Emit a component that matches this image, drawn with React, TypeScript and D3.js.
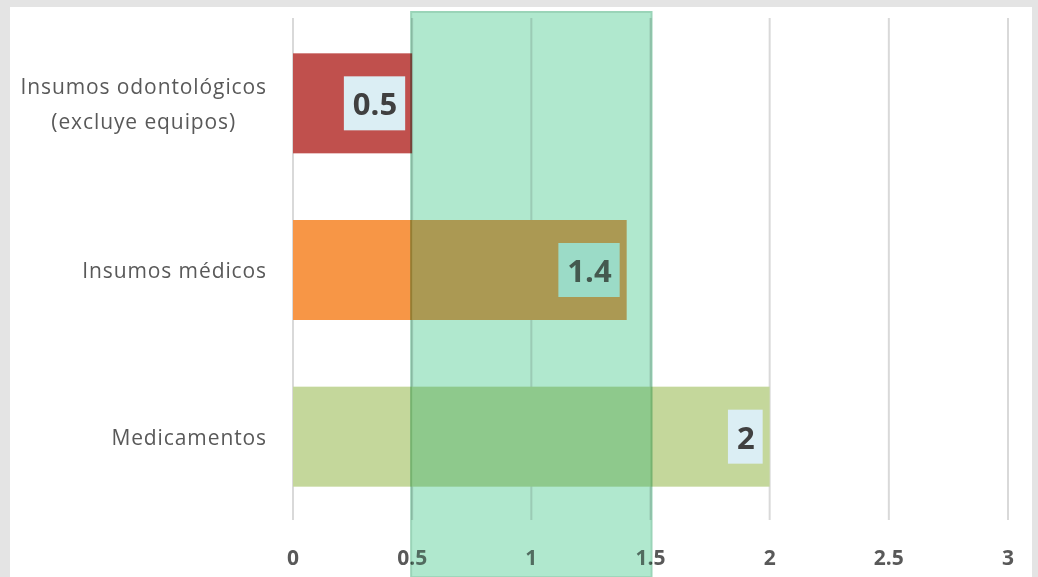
import React, { useEffect, useRef } from 'react';
import * as d3 from 'd3';

// values
const categories = ['Insumos odontológicos\n(excluye equipos)', 'Insumos médicos', 'Medicamentos'];
const values = [0.5, 1.4, 2];
const barColors = ['#c0504d', '#f79646', '#c4d79b'];
const tickValues = [0, 0.5, 1, 1.5, 2, 2.5, 3];
const bandRange = [0.5, 1.5];

const W = 1038;
const H = 577;

function App() {
  const svgRef = useRef<SVGSVGElement>(null);

  useEffect(() => {
    const svg = d3.select(svgRef.current);
    svg.selectAll('*').remove();

    const x = d3.scaleLinear().domain([0, 3]).range([293, 1008]);
    const y = d3.scaleBand().domain(categories).range([20, 520]).paddingInner(0.4).paddingOuter(0.2);

    // frame
    svg.append('rect').attr('width', W).attr('height', H).attr('fill', '#e4e4e4');
    svg.append('rect').attr('x', 10).attr('y', 7).attr('width', 1022).attr('height', H).attr('fill', '#ffffff');

    // gridlines
    svg.append('g')
      .selectAll('line').data(tickValues).enter().append('line')
      .attr('x1', d => x(d)).attr('x2', d => x(d))
      .attr('y1', 18).attr('y2', 520)
      .attr('stroke', '#d9d9d9').attr('stroke-width', 2);

    // bars
    svg.append('g')
      .selectAll('rect').data(values).enter().append('rect')
      .attr('x', x(0))
      .attr('y', (d, i) => y(categories[i]) as number)
      .attr('width', d => x(d) - x(0))
      .attr('height', y.bandwidth())
      .attr('fill', (d, i) => barColors[i]);

    // data labels
    const lab = svg.append('g').selectAll('g').data(values).enter().append('g');
    lab.each(function (d, i) {
      const g = d3.select(this);
      const cy = (y(categories[i]) as number) + y.bandwidth() / 2;
      const bg = g.append('rect');
      const t = g.append('text')
        .attr('x', x(d) - 15)
        .attr('y', cy)
        .attr('text-anchor', 'end')
        .attr('dominant-baseline', 'central')
        .attr('font-family', 'Open Sans, sans-serif')
        .attr('font-weight', 'bold')
        .attr('font-size', 31)
        .attr('fill', '#404040')
        .text(String(d));
      const len = (t.node() as SVGTextElement).getComputedTextLength();
      bg.attr('x', x(d) - 15 - len - 9)
        .attr('y', cy - 27)
        .attr('width', len + 17)
        .attr('height', 54)
        .attr('fill', '#dbeef4');
    });

    // category labels
    svg.append('g').selectAll('text').data(categories).enter().append('text')
      .attr('font-family', 'Open Sans, sans-serif')
      .attr('font-size', 21)
      .attr('letter-spacing', 0.9)
      .attr('fill', '#595959')
      .each(function (d) {
        const t = d3.select(this);
        const lines = d.split('\n');
        const cy = (y(d) as number) + y.bandwidth() / 2;
        const tspans = lines.map((ln, k) =>
          t.append('tspan')
            .attr('y', cy + (k - (lines.length - 1) / 2) * 35)
            .attr('dominant-baseline', 'central')
            .text(ln));
        const widths = tspans.map(s => (s.node() as SVGTSpanElement).getComputedTextLength());
        const maxW = d3.max(widths) as number;
        const center = 267 - maxW / 2;
        tspans.forEach(s => s.attr('x', center).attr('text-anchor', 'middle'));
      });

    // tick labels
    svg.append('g').selectAll('text').data(tickValues).enter().append('text')
      .attr('x', d => x(d))
      .attr('y', 557)
      .attr('text-anchor', 'middle')
      .attr('dominant-baseline', 'central')
      .attr('font-family', 'Open Sans, sans-serif')
      .attr('font-weight', 'bold')
      .attr('font-size', 21)
      .attr('fill', '#595959')
      .text(d => String(d));

    // highlighted band: a multiplied layer plus a thin normal layer
    const bx = x(bandRange[0]) - 1;
    const bw = x(bandRange[1]) - x(bandRange[0]) + 2;
    svg.append('rect')
      .attr('x', bx).attr('y', 12).attr('width', bw).attr('height', H - 12)
      .attr('fill', '#b0e8cf')
      .attr('stroke', '#9ad4b8')
      .attr('stroke-width', 2)
      .style('mix-blend-mode', 'multiply');
    svg.append('rect')
      .attr('x', bx + 1).attr('y', 13).attr('width', bw - 2).attr('height', H - 13)
      .attr('fill', '#b0e8cf')
      .attr('fill-opacity', 0.18);
  }, []);

  return (
    <div style={{ position: 'fixed', left: 0, top: 0 }}>
      <svg ref={svgRef} width={W} height={H} style={{ display: 'block' }}></svg>
    </div>
  );
}

export default App;
